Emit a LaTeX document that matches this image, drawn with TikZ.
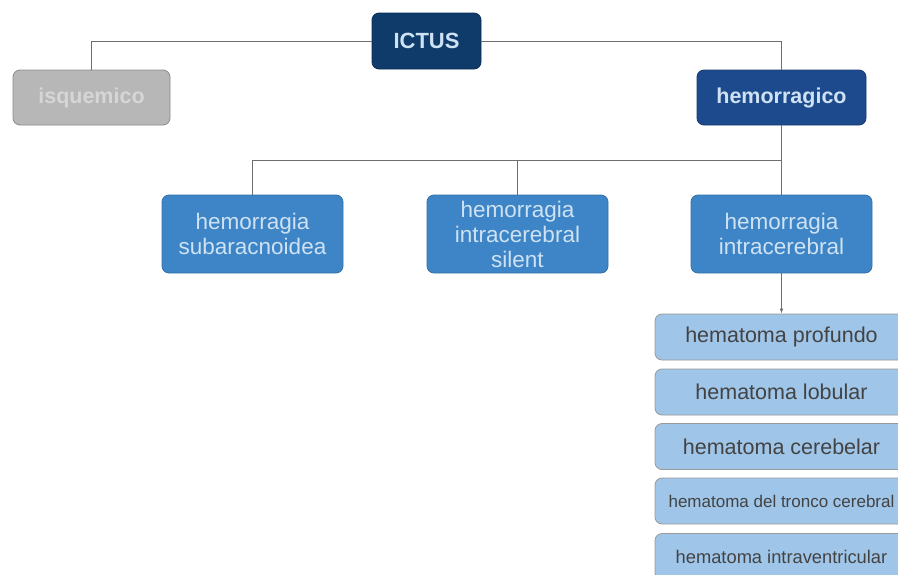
\documentclass[tikz,border=0pt]{standalone}
\usepackage{fontspec}
\setmainfont{Liberation Sans}
\usetikzlibrary{arrows.meta}
\definecolor{navy}{HTML}{0E3B69}
\definecolor{darkblue}{HTML}{1D4A8C}
\definecolor{midblue}{HTML}{3D85C6}
\definecolor{lightblue}{HTML}{9FC5E8}
\definecolor{paleblue}{HTML}{CFE2F3}
\definecolor{greyfill}{HTML}{B7B7B7}
\definecolor{greytext}{HTML}{D6D6D6}
\definecolor{darktext}{HTML}{434343}
\definecolor{linegrey}{HTML}{6E6E6E}
\tikzset{
  box/.style={rounded corners=7pt, line width=0.8pt, align=center, inner sep=2pt},
  topbox/.style={box, draw=navy!80!black, fill=navy, text=paleblue, font=\bfseries\fontsize{21.5}{24}\selectfont},
  greybox/.style={box, draw=black!45, fill=greyfill, text=greytext, font=\bfseries\fontsize{21.5}{24}\selectfont},
  hembox/.style={box, draw=darkblue!80!black, fill=darkblue, text=paleblue, font=\bfseries\fontsize{21.5}{24}\selectfont},
  midbox/.style={box, draw=midblue!85!black, fill=midblue, text=paleblue, minimum width=181pt, minimum height=78pt, font=\fontsize{22.5}{25.5}\selectfont},
  subbox/.style={box, draw=black!40, fill=lightblue, text=darktext, minimum width=253pt, minimum height=46pt, font=\fontsize{21.5}{24}\selectfont},
  link/.style={draw=linegrey, line width=0.7pt}
}
\begin{document}
\begin{tikzpicture}[x=1pt, y=-1pt]
  \useasboundingbox (0,0) rectangle (898,574);
  \clip (0,0) rectangle (898,574);
  \fill[white] (0,0) rectangle (898,574);

  % top level
  \node[topbox, minimum width=109pt, minimum height=56pt, font=\bfseries\fontsize{22}{24}\selectfont] (ictus) at (426.5,41) {ICTUS};
  \node[greybox, minimum width=157pt, minimum height=55pt] (isq) at (91.5,97.5) {isquemico};
  \node[hembox, minimum width=169pt, minimum height=55pt] (hem) at (781.5,97.5) {hemorragico};

  % second level
  \node[midbox] (sub) at (252.5,234) {hemorragia\\subaracnoidea};
  \node[midbox, font=\fontsize{22.5}{25}\selectfont] (sil) at (517.5,234) {hemorragia\\intracerebral\\silent};
  \node[midbox] (ic) at (781.5,234) {hemorragia\\intracerebral};

  % hematoma types
  \node[subbox] (h1) at (781.5,337) {hematoma profundo};
  \node[subbox] (h2) at (781.5,392) {hematoma lobular};
  \node[subbox] (h3) at (781.5,446.5) {hematoma cerebelar};
  \node[subbox, font=\fontsize{17}{20}\selectfont] (h4) at (781.5,501) {hematoma del tronco cerebral};
  \node[subbox, font=\fontsize{18.3}{21}\selectfont] (h5) at (781.5,556.5) {hematoma intraventricular};

  % connectors
  \coordinate (bar) at (781.5,160);
  \draw[link] (ictus.west) -| (isq.north);
  \draw[link] (ictus.east) -| (hem.north);
  \draw[link] (hem.south) -- (ic.north);
  \draw[link] (sub.north) |- (bar);
  \draw[link] (sil.north) -- (sil.north |- bar);
  \draw[link, -{Latex[length=5pt,width=3.5pt]}] (ic.south) -- (h1.north);
\end{tikzpicture}
\end{document}
